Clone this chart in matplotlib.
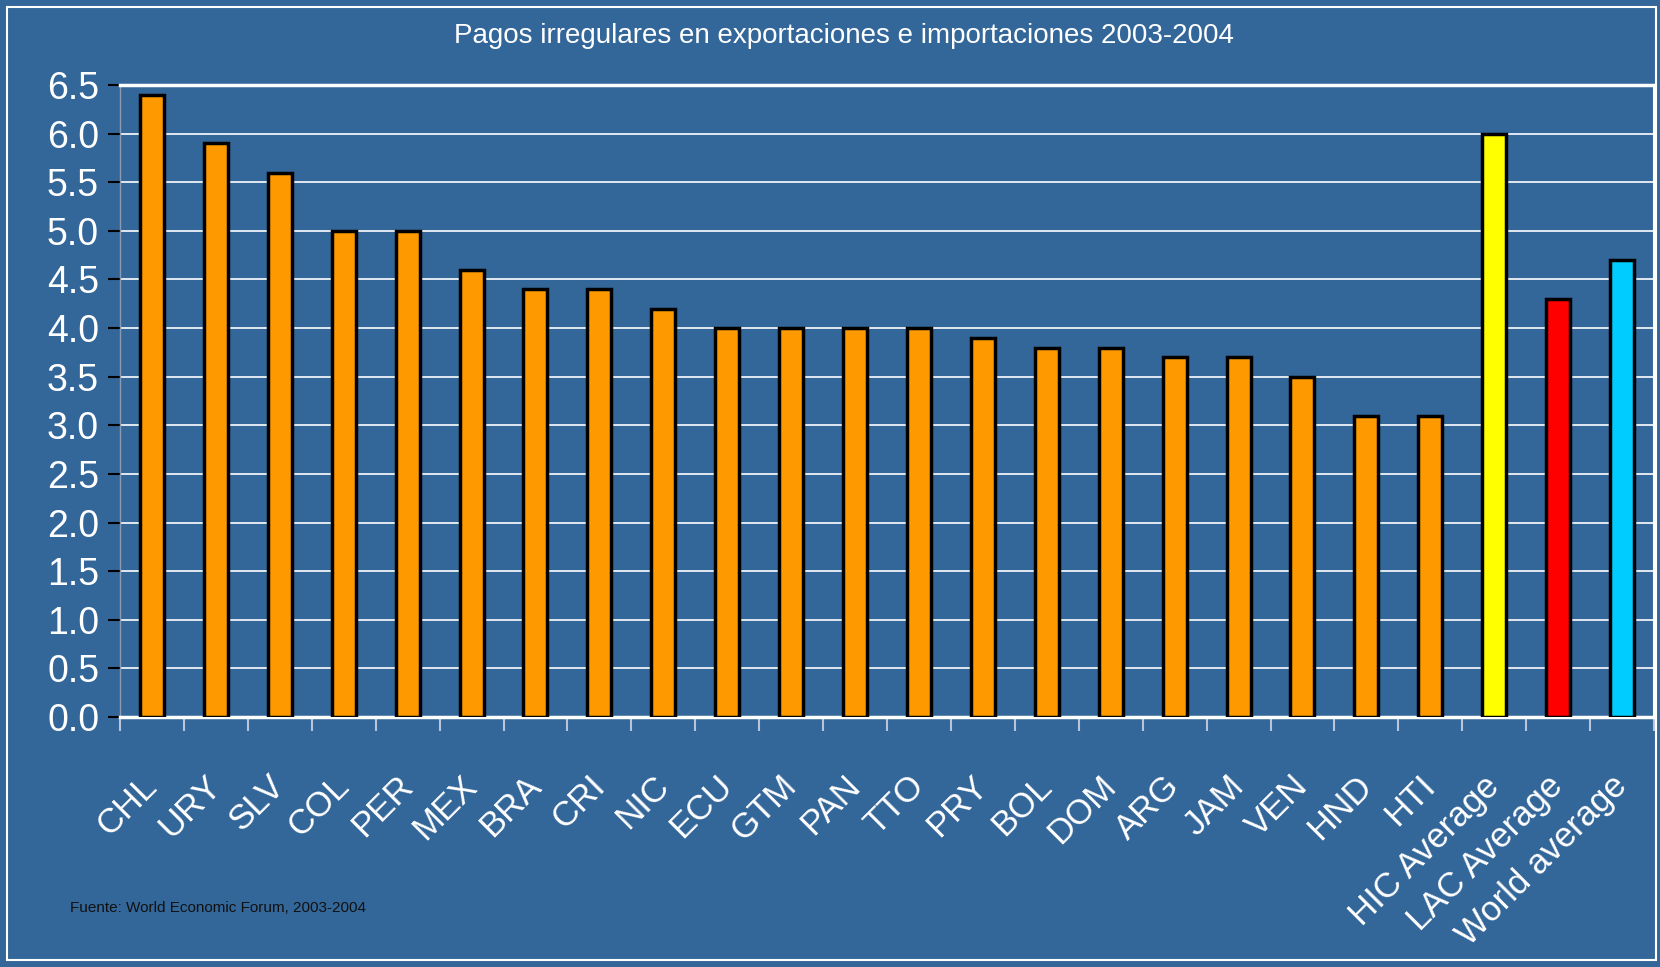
import matplotlib.pyplot as plt
import numpy as np
from matplotlib.patches import Rectangle

# data
countries = ["CHL", "URY", "SLV", "COL", "PER", "MEX", "BRA", "CRI", "NIC", "ECU",
             "GTM", "PAN", "TTO", "PRY", "BOL", "DOM", "ARG", "JAM", "VEN", "HND",
             "HTI", "HIC Average", "LAC Average", "World average"]
values = [6.4, 5.9, 5.6, 5.0, 5.0, 4.6, 4.4, 4.4, 4.2, 4.0,
          4.0, 4.0, 4.0, 3.9, 3.8, 3.8, 3.7, 3.7, 3.5, 3.1,
          3.1, 6.0, 4.3, 4.7]
bar_colors = ["#FF9900"] * 21 + ["#FFFF00", "#FF0000", "#00CCFF"]
yticks = np.arange(0, 6.51, 0.5)

bg = "#336699"
plt.rcParams['font.family'] = ['Liberation Sans Narrow', 'Liberation Sans', 'DejaVu Sans']

fig = plt.figure(figsize=(16.6, 9.67), dpi=100, facecolor=bg)
ax = fig.add_axes([120 / 1660, 1 - 717 / 967, (1654 - 120) / 1660, (717 - 85) / 967])
ax.set_facecolor(bg)

# white frame round the whole picture
fig.patches.append(Rectangle((7 / 1660, 7 / 967), 1 - 11 / 1660, 1 - 14 / 967,
                             transform=fig.transFigure, fill=False,
                             edgecolor="white", linewidth=1.5))

x = np.arange(len(countries))
ax.bar(x, values, width=0.375, color=bar_colors, edgecolor="black", linewidth=2.5, zorder=3)

ax.set_xlim(-0.5, len(countries) - 0.5)
ax.set_ylim(0, 6.5)
ax.set_yticks(yticks)
ax.set_yticklabels([f"{v:.1f}" for v in yticks], color="white", fontsize=27)
ax.yaxis.grid(True, color="white", linewidth=1.2, zorder=0)
ax.tick_params(axis="y", direction="out", length=9, width=1.5, color="black", pad=6)

ax.set_xticks(x)
ax.set_xticklabels(countries, rotation=45, ha="right", va="center",
                   rotation_mode="anchor", color="white", fontsize=25)
ax.tick_params(axis="x", which="major", length=0, pad=46)
ax.set_xticks(np.arange(-0.5, len(countries)), minor=True)
ax.tick_params(axis="x", which="minor", direction="out", length=10, width=1.5, color="#b8c4d8")

for side in ["top", "bottom", "right"]:
    ax.spines[side].set_color("white")
    ax.spines[side].set_linewidth(2.5)
ax.spines["right"].set_linewidth(1.5)
ax.spines["left"].set_color("#8a9ab0")
ax.spines["left"].set_linewidth(1)

fig.text(844 / 1660, 1 - 36 / 967, "Pagos irregulares en exportaciones e importaciones 2003-2004",
         ha="center", va="center", color="white", fontsize=20)
fig.text(70 / 1660, 1 - 908 / 967, "Fuente: World Economic Forum, 2003-2004",
         ha="left", va="center", color="#111111", fontsize=11)

fig.savefig("out.png", dpi=100, facecolor=bg)
